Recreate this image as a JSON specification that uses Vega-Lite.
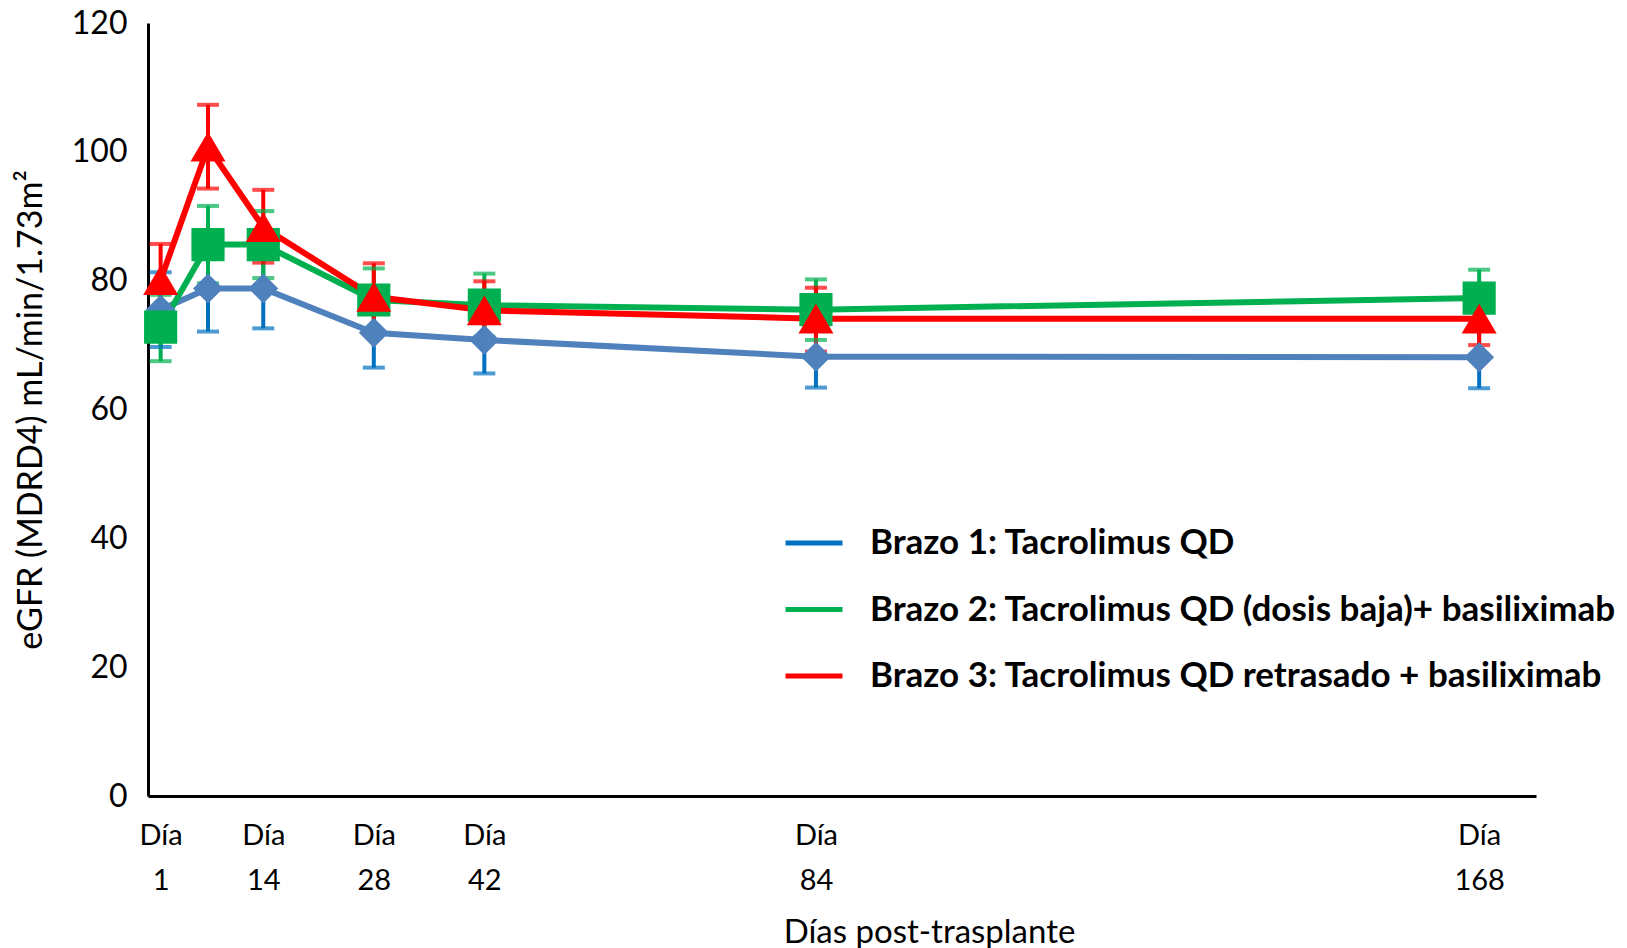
{
  "$schema": "https://vega.github.io/schema/vega-lite/v6.json",
  "width": 1388,
  "height": 773,
  "autosize": {"type": "none"},
  "padding": {"left": 148, "top": 23, "right": 91, "bottom": 152},
  "background": "white",
  "config": {"view": {"stroke": null}, "axis": {"grid": false}},
  "data": {
    "values": [
      {"day": 1, "series": "Brazo 1: Tacrolimus QD", "value": 75.5, "lo": 69.7, "hi": 81.3},
      {"day": 7, "series": "Brazo 1: Tacrolimus QD", "value": 78.8, "lo": 72.1, "hi": 85.5},
      {"day": 14, "series": "Brazo 1: Tacrolimus QD", "value": 78.8, "lo": 72.6, "hi": 85.0},
      {"day": 28, "series": "Brazo 1: Tacrolimus QD", "value": 71.9, "lo": 66.5, "hi": 77.6},
      {"day": 42, "series": "Brazo 1: Tacrolimus QD", "value": 70.8, "lo": 65.6, "hi": 76.2},
      {"day": 84, "series": "Brazo 1: Tacrolimus QD", "value": 68.2, "lo": 63.4, "hi": 73.1},
      {"day": 168, "series": "Brazo 1: Tacrolimus QD", "value": 68.1, "lo": 63.3, "hi": 73.0},
      {"day": 1, "series": "Brazo 2: Tacrolimus QD (dosis baja)+ basiliximab", "value": 72.8, "lo": 67.5, "hi": 77.8},
      {"day": 7, "series": "Brazo 2: Tacrolimus QD (dosis baja)+ basiliximab", "value": 85.6, "lo": 79.6, "hi": 91.6},
      {"day": 14, "series": "Brazo 2: Tacrolimus QD (dosis baja)+ basiliximab", "value": 85.6, "lo": 80.4, "hi": 90.8},
      {"day": 28, "series": "Brazo 2: Tacrolimus QD (dosis baja)+ basiliximab", "value": 77.0, "lo": 72.1, "hi": 81.9},
      {"day": 42, "series": "Brazo 2: Tacrolimus QD (dosis baja)+ basiliximab", "value": 76.2, "lo": 71.3, "hi": 81.1},
      {"day": 84, "series": "Brazo 2: Tacrolimus QD (dosis baja)+ basiliximab", "value": 75.5, "lo": 70.8, "hi": 80.2},
      {"day": 168, "series": "Brazo 2: Tacrolimus QD (dosis baja)+ basiliximab", "value": 77.3, "lo": 72.9, "hi": 81.7},
      {"day": 1, "series": "Brazo 3: Tacrolimus QD retrasado + basiliximab", "value": 80.1, "lo": 74.5, "hi": 85.7},
      {"day": 7, "series": "Brazo 3: Tacrolimus QD retrasado + basiliximab", "value": 100.8, "lo": 94.3, "hi": 107.3},
      {"day": 14, "series": "Brazo 3: Tacrolimus QD retrasado + basiliximab", "value": 88.3, "lo": 82.8, "hi": 94.1},
      {"day": 28, "series": "Brazo 3: Tacrolimus QD retrasado + basiliximab", "value": 77.5, "lo": 71.9, "hi": 82.7},
      {"day": 42, "series": "Brazo 3: Tacrolimus QD retrasado + basiliximab", "value": 75.4, "lo": 70.5, "hi": 79.9},
      {"day": 84, "series": "Brazo 3: Tacrolimus QD retrasado + basiliximab", "value": 74.1, "lo": 69.0, "hi": 78.9},
      {"day": 168, "series": "Brazo 3: Tacrolimus QD retrasado + basiliximab", "value": 74.1, "lo": 70.0, "hi": 78.0}
    ]
  },
  "encoding": {
    "x": {
      "field": "day",
      "type": "quantitative",
      "scale": {"domain": [-0.6, 175.2], "nice": false, "zero": false},
      "axis": {
        "values": [1, 14, 28, 42, 84, 168],
        "labelExpr": "['Día', datum.label]",
        "labelLineHeight": 45,
        "labelFont": "Lato",
        "labelFontSize": 29,
        "labelColor": "black",
        "labelPadding": 25,
        "labelBaseline": "top",
        "ticks": false,
        "domainColor": "black",
        "domainWidth": 3,
        "title": "Días post-trasplante",
        "titleFont": "Lato",
        "titleFontSize": 33,
        "titleFontWeight": "normal",
        "titleColor": "black",
        "titleX": 781,
        "titleY": 136,
        "titleBaseline": "middle",
        "titleAlign": "center"
      }
    },
    "y": {
      "field": "value",
      "type": "quantitative",
      "scale": {"domain": [0, 120], "nice": false},
      "axis": {
        "values": [0, 20, 40, 60, 80, 100, 120],
        "labelFont": "Lato",
        "labelFontSize": 32,
        "labelColor": "black",
        "labelPadding": 21,
        "ticks": false,
        "domainColor": "black",
        "domainWidth": 3,
        "title": "eGFR (MDRD4) mL/min/1.73m²",
        "titleFont": "Lato",
        "titleFontSize": 34,
        "titleFontWeight": "normal",
        "titleColor": "black",
        "titleAngle": -90,
        "titleX": -117,
        "titleY": 386.5,
        "titleBaseline": "middle",
        "titleAlign": "center"
      }
    }
  },
  "layer": [
    {
      "mark": {"type": "rule", "strokeWidth": 4},
      "encoding": {
        "y": {"field": "lo", "type": "quantitative"},
        "y2": {"field": "hi"},
        "color": {
          "field": "series",
          "type": "nominal",
          "scale": {
            "domain": ["Brazo 1: Tacrolimus QD", "Brazo 2: Tacrolimus QD (dosis baja)+ basiliximab", "Brazo 3: Tacrolimus QD retrasado + basiliximab"],
            "range": ["#0070C0", "#00B050", "#FF0000"]
          },
          "legend": {
            "title": null,
            "orient": "none",
            "legendX": 635,
            "legendY": 489,
            "symbolType": "stroke",
            "symbolSize": 3249,
            "symbolStrokeWidth": 5,
            "labelFont": "Lato",
            "labelFontSize": 35,
            "labelFontWeight": "bold",
            "labelColor": "black",
            "labelOffset": 25,
            "labelLimit": 1000,
            "rowPadding": 17.5,
            "padding": 0
          }
        }
      }
    },
    {
      "mark": {"type": "tick", "orient": "horizontal", "size": 22, "thickness": 4},
      "encoding": {
        "y": {"field": "lo", "type": "quantitative"},
        "color": {"field": "series", "type": "nominal", "scale": {"domain": ["Brazo 1: Tacrolimus QD", "Brazo 2: Tacrolimus QD (dosis baja)+ basiliximab", "Brazo 3: Tacrolimus QD retrasado + basiliximab"], "range": ["#0070C0", "#00B050", "#FF0000"]}, "legend": null}
      }
    },
    {
      "mark": {"type": "tick", "orient": "horizontal", "size": 22, "thickness": 4},
      "encoding": {
        "y": {"field": "hi", "type": "quantitative"},
        "color": {"field": "series", "type": "nominal", "scale": {"domain": ["Brazo 1: Tacrolimus QD", "Brazo 2: Tacrolimus QD (dosis baja)+ basiliximab", "Brazo 3: Tacrolimus QD retrasado + basiliximab"], "range": ["#0070C0", "#00B050", "#FF0000"]}, "legend": null}
      }
    },
    {
      "mark": {"type": "line", "strokeWidth": 6},
      "encoding": {
        "color": {"field": "series", "type": "nominal", "scale": {"domain": ["Brazo 1: Tacrolimus QD", "Brazo 2: Tacrolimus QD (dosis baja)+ basiliximab", "Brazo 3: Tacrolimus QD retrasado + basiliximab"], "range": ["#4F81BD", "#00B050", "#FF0000"]}, "legend": null}
      }
    },
    {
      "transform": [{"filter": "datum.series == 'Brazo 1: Tacrolimus QD'"}],
      "mark": {"type": "point", "filled": true, "opacity": 1, "shape": "diamond", "size": 900, "color": "#4F81BD"},
      "encoding": {}
    },
    {
      "transform": [{"filter": "datum.series == 'Brazo 2: Tacrolimus QD (dosis baja)+ basiliximab'"}],
      "mark": {"type": "point", "filled": true, "opacity": 1, "shape": "square", "size": 1100, "color": "#00B050"},
      "encoding": {}
    },
    {
      "transform": [{"filter": "datum.series == 'Brazo 3: Tacrolimus QD retrasado + basiliximab'"}],
      "mark": {"type": "point", "filled": true, "opacity": 1, "shape": "M0,-0.85L1,0.85L-1,0.85Z", "size": 1225, "color": "#FF0000"},
      "encoding": {}
    }
  ],
  "resolve": {"scale": {"color": "independent"}}
}
